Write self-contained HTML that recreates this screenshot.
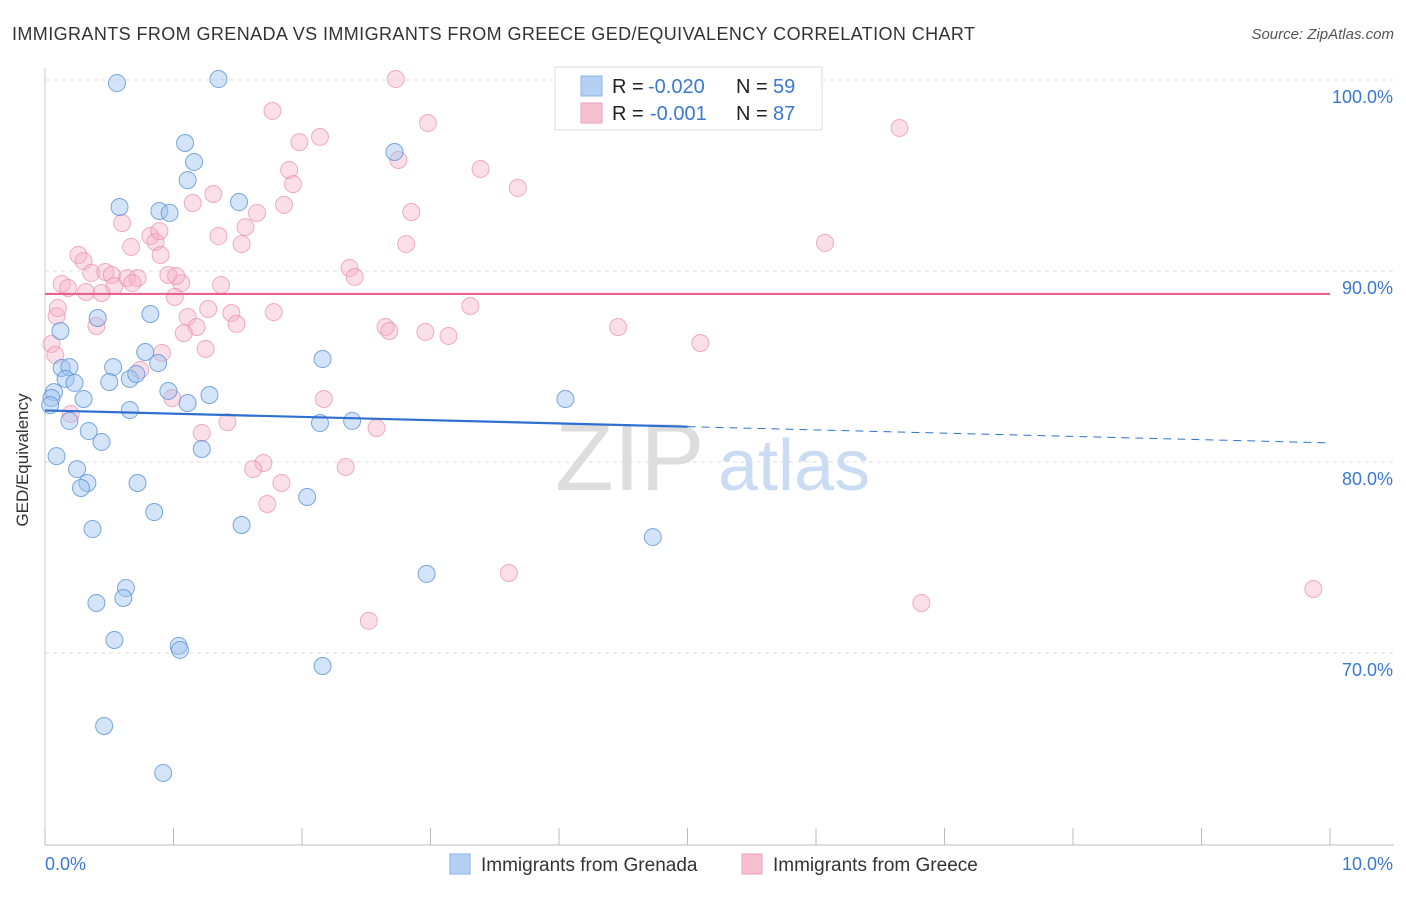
<!DOCTYPE html>
<html><head><meta charset="utf-8"><style>
body{margin:0;background:#fff;font-family:"Liberation Sans",sans-serif;}
svg text{font-family:"Liberation Sans",sans-serif;}
</style></head><body>
<svg id="chart" width="1406" height="892">
<text x="12" y="40" font-size="18" fill="#333" textLength="963">IMMIGRANTS FROM GRENADA VS IMMIGRANTS FROM GREECE GED/EQUIVALENCY CORRELATION CHART</text>
<text x="1394" y="39" font-size="15" fill="#555" font-style="italic" text-anchor="end">Source: ZipAtlas.com</text>
<g><text x="555" y="490" font-size="96" fill="#ddd" font-family="Liberation Serif">ZIP</text><text x="718" y="490" font-size="72" fill="#c9dcf3">atlas</text></g>
<g id="grid"></g><g id="axes"></g><g id="pts"></g><g id="trend"></g>
<text x="28" y="460" font-size="17" fill="#333" transform="rotate(-90 28 460)" text-anchor="middle">GED/Equivalency</text>
<g>
<rect x="555" y="67" width="267" height="63" fill="#fff" stroke="#ddd"/>
<rect x="581" y="76" width="21" height="20" fill="#b5d0f3" stroke="#8ab3e8"/>
<rect x="581" y="103" width="21" height="20" fill="#f7c1d2" stroke="#ee9fb9"/>
<text x="612" y="93" font-size="20" fill="#222">R =</text><text x="648" y="93" font-size="20" fill="#3a78d4">-0.020</text>
<text x="736" y="93" font-size="20" fill="#222">N =</text><text x="773" y="93" font-size="20" fill="#3a78d4">59</text>
<text x="612" y="120" font-size="20" fill="#222">R =</text><text x="650" y="120" font-size="20" fill="#3a78d4">-0.001</text>
<text x="736" y="120" font-size="20" fill="#222">N =</text><text x="773" y="120" font-size="20" fill="#3a78d4">87</text>
</g>
<g>
<rect x="450" y="854" width="20" height="20" fill="#b5d0f3" stroke="#8ab3e8"/>
<text x="481" y="871" font-size="19" fill="#333">Immigrants from Grenada</text>
<rect x="742" y="854" width="20" height="20" fill="#f7c1d2" stroke="#ee9fb9"/>
<text x="773" y="871" font-size="19" fill="#333">Immigrants from Greece</text>
</g>
</svg>
<script>
const blueX=[0.56,1.35,1.09,1.16,1.11,1.51,0.58,0.89,0.97,2.72,0.41,0.82,0.12,0.78,0.88,0.53,0.13,0.19,0.16,0.23,0.50,0.66,0.71,2.16,0.07,0.05,0.04,0.30,0.96,1.28,1.11,0.66,0.19,2.14,2.39,4.05,0.34,0.44,1.22,0.09,0.25,0.33,0.28,0.72,2.04,0.85,1.53,0.37,4.73,2.97,0.63,0.61,0.40,0.54,1.04,1.05,2.16,0.46,0.92];
const blueY=[99.84,100.05,96.70,95.71,94.76,93.61,93.35,93.14,93.04,96.23,87.54,87.75,86.86,85.76,85.18,84.97,84.92,84.97,84.35,84.14,84.19,84.35,84.61,85.39,83.66,83.35,82.98,83.30,83.72,83.51,83.09,82.72,82.15,82.04,82.15,83.30,81.62,81.05,80.68,80.31,79.63,78.90,78.64,78.90,78.17,77.38,76.70,76.49,76.07,74.14,73.40,72.88,72.62,70.68,70.37,70.16,69.32,66.18,63.72];
const pinkX=[2.73,5.92,1.77,1.98,2.14,2.98,6.65,1.90,1.93,2.75,3.39,3.68,1.31,1.15,1.86,1.65,2.85,0.60,1.56,1.35,0.82,0.67,0.86,1.53,2.81,6.07,0.26,0.90,0.30,0.36,0.47,0.52,0.64,0.72,0.96,2.37,2.41,0.13,0.18,0.54,0.32,0.44,1.06,1.37,1.01,3.31,0.09,1.27,1.45,1.78,0.40,1.11,1.18,1.08,1.49,2.65,2.68,2.96,3.14,4.46,5.10,1.25,0.91,0.05,0.08,0.74,0.20,0.99,2.17,1.42,2.58,1.22,1.70,1.62,2.34,1.84,1.73,3.61,6.82,9.87,2.52,0.10,0.89,0.68,1.02];
const pinkY=[100.05,100.05,98.38,96.75,97.02,97.75,97.49,95.29,94.55,95.81,95.34,94.35,94.03,93.56,93.46,93.04,93.09,92.51,92.30,91.83,91.83,91.26,91.52,91.41,91.41,91.47,90.84,90.84,90.52,89.90,89.95,89.79,89.63,89.63,89.79,90.16,89.69,89.32,89.11,89.21,88.90,88.85,89.37,89.27,88.64,88.17,87.64,88.01,87.80,87.85,87.12,87.59,87.07,86.75,87.23,87.07,86.86,86.81,86.60,87.07,86.23,85.92,85.71,86.18,85.60,84.82,82.51,83.35,83.30,82.09,81.78,81.52,79.95,79.63,79.74,78.90,77.80,74.19,72.62,73.35,71.68,88.06,92.09,89.37,89.74];
const yTicks=[100,90,80,70];
const yTickLabels=["100.0%","90.0%","80.0%","70.0%"];
const xTickLabels=["0.0%","10.0%"];
const blueTrend=[82.7,81.0];
const pinkTrend=[88.8,88.8];
const X=v=>45+v*128.5, Y=v=>80+(100-v)*19.1;
const NS="http://www.w3.org/2000/svg";
function mk(p,t,a){const e=document.createElementNS(NS,t);for(const k in a)e.setAttribute(k,a[k]);p.appendChild(e);return e;}
const grid=document.getElementById('grid'),axes=document.getElementById('axes'),pts=document.getElementById('pts'),tr=document.getElementById('trend');
yTicks.forEach((t,i)=>{const l=mk(grid,'line',{x1:45,x2:1394,y1:Y(t),y2:Y(t),stroke:'#ddd','stroke-dasharray':'4,4'});


const tx=mk(grid,'text',{x:1393,y:Y(t)+23,'font-size':18,fill:'#3a78d4','text-anchor':'end'});tx.textContent=yTickLabels[i];

});
const ax=mk(axes,'line',{x1:45,x2:1394,y1:845,y2:845,stroke:'#bbb'});


const ay=mk(axes,'line',{x1:45,x2:45,y1:68,y2:845,stroke:'#ccc'});


for(let i=0;i<=10;i++){const t=mk(axes,'line',{x1:X(i),x2:X(i),y1:828,y2:845,stroke:'#bbb'});

}
[[0,'start',45],[10,'end',1393]].forEach((d,i)=>{const t=mk(axes,'text',{x:d[2],y:870,'font-size':18,fill:'#3a78d4','text-anchor':d[1]});t.textContent=xTickLabels[i];

});
pinkX.forEach((x,i)=>{const c=mk(pts,'circle',{cx:X(x),cy:Y(pinkY[i]),r:8.5,fill:'rgba(245,175,198,0.4)',stroke:'rgba(232,140,172,0.7)','stroke-width':1});

});
blueX.forEach((x,i)=>{const c=mk(pts,'circle',{cx:X(x),cy:Y(blueY[i]),r:8.5,fill:'rgba(160,195,240,0.45)',stroke:'rgba(90,145,215,0.8)','stroke-width':1});

});
const bAt=x=>blueTrend[0]+(blueTrend[1]-blueTrend[0])*x/10;
let l=mk(tr,'line',{x1:X(0),y1:Y(bAt(0)),x2:X(5),y2:Y(bAt(5)),stroke:'#2f6fd0','stroke-width':2.2});


l=mk(tr,'line',{x1:X(5),y1:Y(bAt(5)),x2:X(10),y2:Y(bAt(10)),stroke:'#2f6fd0','stroke-width':1,'stroke-dasharray':'8,6'});


l=mk(tr,'line',{x1:X(0),y1:Y(pinkTrend[0]),x2:X(10),y2:Y(pinkTrend[1]),stroke:'#e8628f','stroke-width':2.2});


</script>
</body></html>
